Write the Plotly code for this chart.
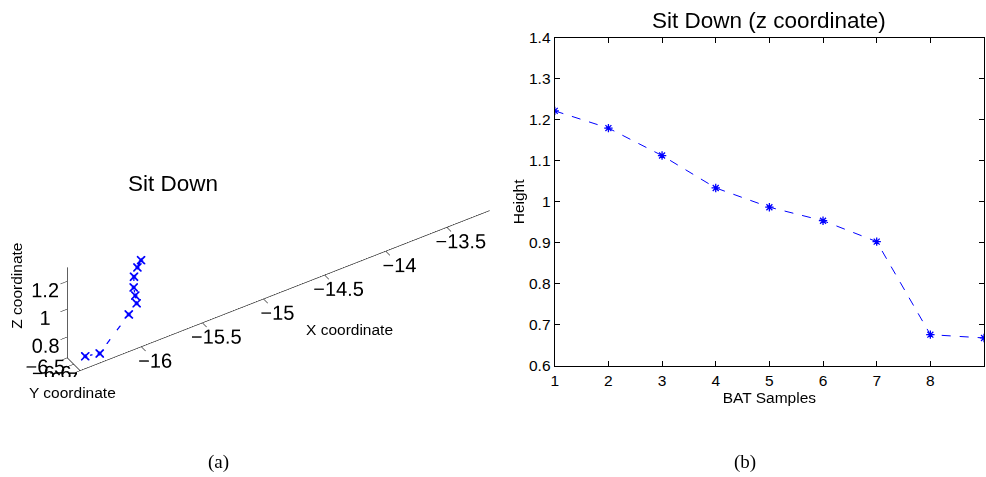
import plotly.graph_objects as go

# Sit-down trajectory: nine BAT samples
samples = [1, 2, 3, 4, 5, 6, 7, 8, 9]
height_z = [1.222, 1.180, 1.113, 1.034, 0.987, 0.954, 0.903, 0.676, 0.668]
coord_x = [-15.96, -15.99, -16.01, -16.01, -16.01, -16.02, -16.09, -16.305, -16.40]
coord_y = [-6.620, -6.620, -6.605, -6.600, -6.625, -6.666, -6.677, -6.633, -6.588]

x3_ticks = [-16, -15.5, -15, -14.5, -14, -13.5]
y3_ticks = [-6.7, -6.6, -6.5]
z3_ticks = [0.8, 1.0, 1.2]
height_ticks = [0.6, 0.7, 0.8, 0.9, 1.0, 1.1, 1.2, 1.3, 1.4]
height_labels = ["0.6", "0.7", "0.8", "0.9", "1", "1.1", "1.2", "1.3", "1.4"]

SANS = "Liberation Sans, Arial, Helvetica, sans-serif"
SERIF = "Liberation Serif, Times New Roman, serif"
BLUE = "#0000ff"
LBL = 15.5
TTL = 22.5

fig = go.Figure()

# (a) 3-D trajectory: dashed path plus star-like markers built from "+" and "x"
fig.add_trace(go.Scatter3d(
    x=coord_x, y=coord_y, z=height_z, mode="lines",
    line=dict(color=BLUE, width=2.5, dash="longdash"),
    showlegend=False, hoverinfo="skip", scene="scene",
))
for sym, sz in [("cross", 2.5), ("x", 2)]:
    fig.add_trace(go.Scatter3d(
        x=coord_x, y=coord_y, z=height_z, mode="markers",
        marker=dict(symbol=sym, size=sz, color=BLUE),
        showlegend=False, hoverinfo="skip", scene="scene",
    ))

# (b) height over samples
fig.add_trace(go.Scatter(
    x=samples, y=height_z, mode="lines+markers",
    line=dict(color=BLUE, width=1, dash="dash"),
    marker=dict(symbol="asterisk-open", size=7, line=dict(color=BLUE, width=1.3)),
    showlegend=False, hoverinfo="skip", xaxis="x", yaxis="y",
))

ax3 = dict(showgrid=False, zeroline=False, showbackground=False, showspikes=False,
           showline=True, linecolor="black", linewidth=1.2, tickangle=0,
           ticks="outside", ticklen=8, tickwidth=1, tickcolor="black",
           tickfont=dict(family=SANS, size=LBL, color="black"),
           title=dict(text=""))

K = 3.5
SHIFT = 19 / 986
fig.update_layout(
    width=986, height=477, paper_bgcolor="white", plot_bgcolor="white",
    margin=dict(l=0, r=0, t=0, b=0),
    font=dict(family=SANS, color="black"),
    scene=dict(
        domain=dict(x=[0.0 + SHIFT, 0.52 + SHIFT], y=[0.2, 0.8]),
        xaxis=dict(ax3, range=[-16.5, -13.15], tickvals=x3_ticks),
        yaxis=dict(ax3, range=[-6.7, -6.5], tickvals=y3_ticks),
        zaxis=dict(ax3, range=[0.65, 1.3], tickvals=z3_ticks),
        aspectmode="manual", aspectratio=dict(x=1.0 * K, y=0.05 * K, z=0.24 * K),
        camera=dict(eye=dict(x=-0.414, y=-0.662, z=0.625), up=dict(x=0, y=0, z=1),
                    center=dict(x=0, y=0, z=0), projection=dict(type="orthographic")),
        bgcolor="rgba(0,0,0,0)",
    ),
    xaxis=dict(domain=[553 / 986, 984 / 986], range=[1, 9], tickvals=samples,
               showline=True, mirror="ticks", linecolor="black", linewidth=1.2,
               ticks="inside", ticklen=5, tickcolor="black", showgrid=False, zeroline=False,
               tickfont=dict(size=LBL), anchor="y",
               title=dict(text="BAT Samples", font=dict(size=LBL), standoff=0)),
    yaxis=dict(domain=[1 - 370 / 477, 1 - 30 / 477], range=[0.6, 1.4], tickvals=height_ticks,
               ticktext=height_labels,
               showline=True, mirror="ticks", linecolor="black", linewidth=1.2,
               ticks="inside", ticklen=5, tickcolor="black", showgrid=False, zeroline=False,
               tickfont=dict(size=LBL), anchor="x",
               title=dict(text="Height", font=dict(size=LBL), standoff=0)),
)

annotations = [
    dict(text="Sit Down", x=170 / 986, y=1 - 181 / 477, font=dict(size=TTL)),
    dict(text="Sit Down (z coordinate)", x=768 / 986, y=1 - 12 / 477, font=dict(size=TTL)),
    dict(text="Z coordinate", x=13 / 986, y=1 - 287 / 477, textangle=-90, font=dict(size=LBL)),
    dict(text="Y coordinate", x=69 / 986, y=1 - 398 / 477, font=dict(size=LBL)),
    dict(text="X coordinate", x=347 / 986, y=1 - 332 / 477, font=dict(size=LBL)),
    dict(text="(a)", x=215 / 986, y=1 - 470 / 477, font=dict(size=19, family=SERIF)),
    dict(text="(b)", x=744 / 986, y=1 - 470 / 477, font=dict(size=19, family=SERIF)),
]
for a in annotations:
    a.update(xref="paper", yref="paper", showarrow=False, xanchor="center", yanchor="middle")
fig.update_layout(annotations=annotations)

fig.write_html("out.html")
